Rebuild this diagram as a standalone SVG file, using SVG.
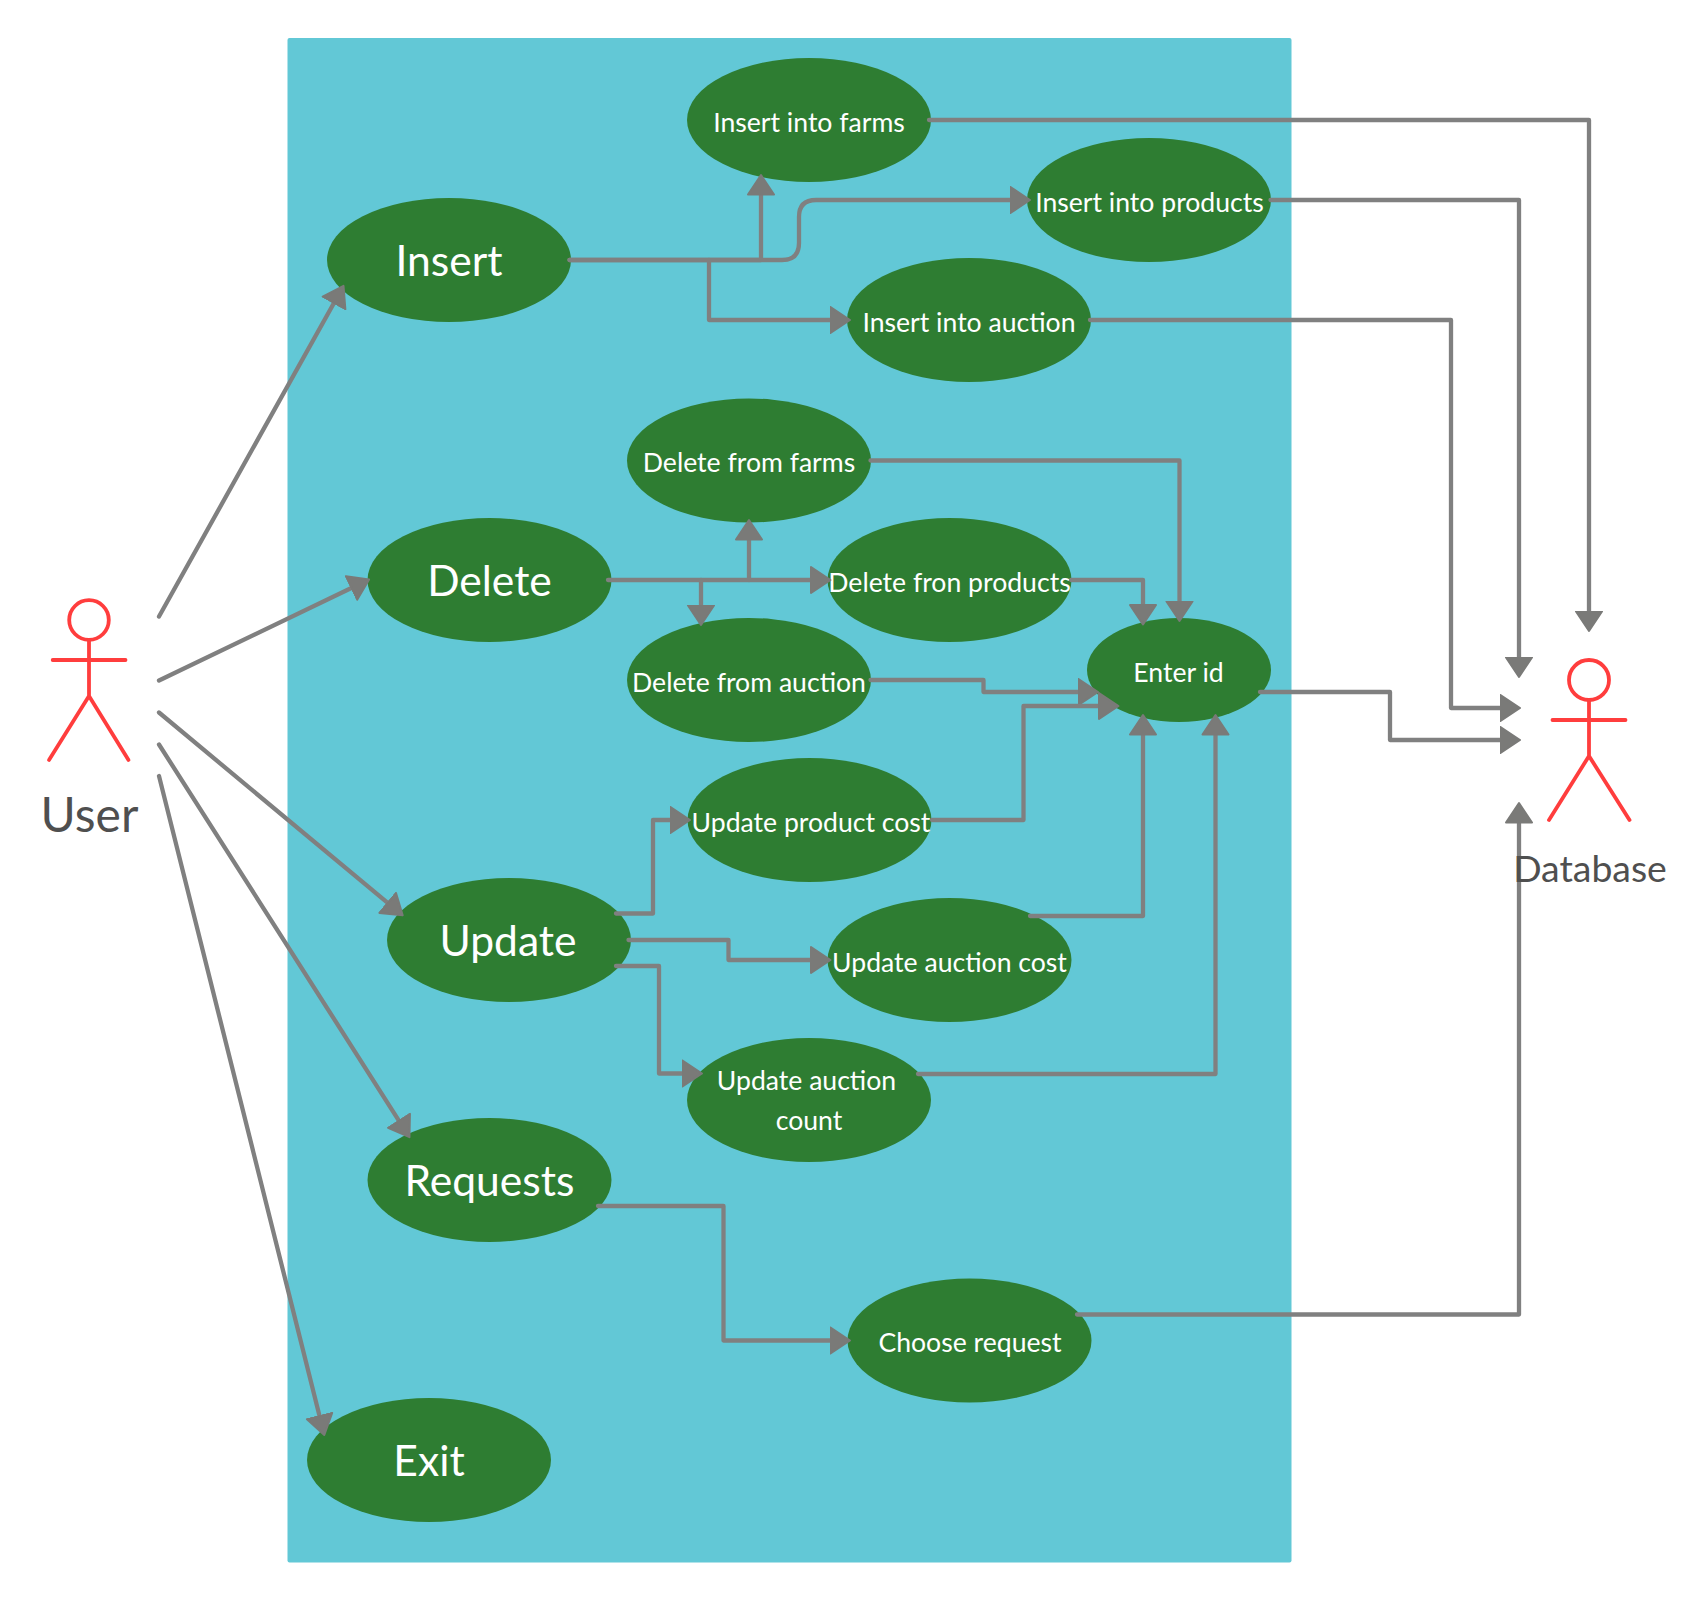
<svg xmlns="http://www.w3.org/2000/svg" width="1706" height="1600" viewBox="0 0 1706 1600">
<style>
.bg{fill:#62c8d6}
.uc{fill:#2e7d32}
.t{font-family:Lato,"Liberation Sans",sans-serif;fill:#fff;text-anchor:middle}
.s{font-size:26.6px}
.b{font-size:42.6px}
.c path{fill:none;stroke:#808080;stroke-width:4.3;stroke-linejoin:round;stroke-linecap:round;marker-end:url(#a)}
.actor *{fill:none;stroke:#ff3d3d;stroke-width:3.8;stroke-linecap:round;stroke-linejoin:round}
.al{font-family:Lato,"Liberation Sans",sans-serif;fill:#4f4f4f;text-anchor:middle}
</style>
<defs>
<marker id="a" markerUnits="userSpaceOnUse" markerWidth="30" markerHeight="34" refX="13.5" refY="15" orient="auto">
<path d="M1 2L20.5 15L1 28Z" fill="#7a7a78" stroke="#7a7a78" stroke-width="2" stroke-linejoin="round"/>
</marker>
</defs>
<rect class="bg" x="287.5" y="38" width="1004" height="1524.5" rx="2"/>
<g id="n-insert-farms"><ellipse class="uc" cx="809" cy="120" rx="122" ry="62"/><text class="t s" x="809" y="132">Insert into farms</text></g>
<g id="n-insert-products"><ellipse class="uc" cx="1149" cy="200" rx="122" ry="62"/><text class="t s" x="1149.5" y="212">Insert into products</text></g>
<g id="n-insert-auction"><ellipse class="uc" cx="969" cy="320" rx="122" ry="62"/><text class="t s" x="969" y="332">Insert into auction</text></g>
<g id="n-insert"><ellipse class="uc" cx="449" cy="260" rx="122" ry="62"/><text class="t b" x="449" y="275.5">Insert</text></g>
<g id="n-delete-farms"><ellipse class="uc" cx="749" cy="460.5" rx="122" ry="62"/><text class="t s" x="749" y="472">Delete from farms</text></g>
<g id="n-delete"><ellipse class="uc" cx="489.5" cy="580" rx="122" ry="62"/><text class="t b" x="489.5" y="595.5">Delete</text></g>
<g id="n-delete-products"><ellipse class="uc" cx="949.5" cy="580" rx="122" ry="62"/><text class="t s" x="949.5" y="592">Delete fron products</text></g>
<g id="n-delete-auction"><ellipse class="uc" cx="749" cy="680" rx="122" ry="62"/><text class="t s" x="749" y="691.5">Delete from auction</text></g>
<g id="n-enter-id"><ellipse class="uc" cx="1179" cy="670" rx="92" ry="52"/><text class="t s" x="1178.5" y="682">Enter id</text></g>
<g id="n-update-product"><ellipse class="uc" cx="809.5" cy="820" rx="122" ry="62"/><text class="t s" x="811" y="832">Update product cost</text></g>
<g id="n-update"><ellipse class="uc" cx="509" cy="940" rx="122" ry="62"/><text class="t b" x="508" y="955.5">Update</text></g>
<g id="n-update-auction-cost"><ellipse class="uc" cx="949.5" cy="960" rx="122" ry="62"/><text class="t s" x="949.5" y="972">Update auction cost</text></g>
<g id="n-update-auction-count"><ellipse class="uc" cx="809" cy="1100" rx="122" ry="62"/><text class="t s" x="806.5" y="1089.5">Update auction</text><text class="t s" x="809" y="1129.5">count</text></g>
<g id="n-requests"><ellipse class="uc" cx="489.5" cy="1180" rx="122" ry="62"/><text class="t b" x="489.5" y="1196">Requests</text></g>
<g id="n-choose"><ellipse class="uc" cx="969.5" cy="1340.5" rx="122" ry="62"/><text class="t s" x="970" y="1352">Choose request</text></g>
<g id="n-exit"><ellipse class="uc" cx="429" cy="1460" rx="122" ry="62"/><text class="t b" x="429" y="1475.5">Exit</text></g>
<g id="connectors" class="c">
<path d="M159 616.5L340.1 292"/>
<path d="M159 680.5L362.8 582.5"/>
<path d="M159 712.5L397.3 910.9"/>
<path d="M159 744.5L405.7 1131.3"/>
<path d="M159 776L322.6 1428.2"/>
<path d="M569.5 260H761V182"/>
<path d="M569.5 260H782Q799 260 799 243V217Q799 200 816 200H1023"/>
<path d="M709 260V320H843"/>
<path d="M608 580H823.5"/>
<path d="M749 580V527"/>
<path d="M701 580V618"/>
<path d="M616 913.5H653V820H683"/>
<path d="M628.5 940H728.5V960H823.5"/>
<path d="M616 966H659V1073.5H695"/>
<path d="M598 1206H723.5V1340.5H843"/>
<path d="M929 120H1589V624"/>
<path d="M1270.5 200H1519V670"/>
<path d="M1090 320H1451V708H1513"/>
<path d="M870.5 460.5H1179.5V614"/>
<path d="M1071 580H1143V617.5"/>
<path d="M870.5 680H983.5V692H1091"/>
<path d="M932 820H1023.5V706H1111.5"/>
<path d="M1030 916H1143V722"/>
<path d="M918 1074H1215.5V722"/>
<path d="M1260 692H1390V740H1513"/>
<path d="M1077 1314.5H1519V810"/>
</g>
<g id="actor-user"><g class="actor"><circle cx="89" cy="620" r="19.8"/><path d="M89 640V696M52.7 660H125.5M89 696L49 760M89 696L128.5 760"/></g><text class="al" x="89.5" y="832" font-size="48">User</text></g>
<g id="actor-database"><g class="actor"><circle cx="1589" cy="680" r="20"/><path d="M1589 700V756M1552.5 720H1625.5M1589 756L1549 820M1589 756L1629.5 820"/></g><text class="al" x="1590" y="881.5" font-size="37.4">Database</text></g>
</svg>
